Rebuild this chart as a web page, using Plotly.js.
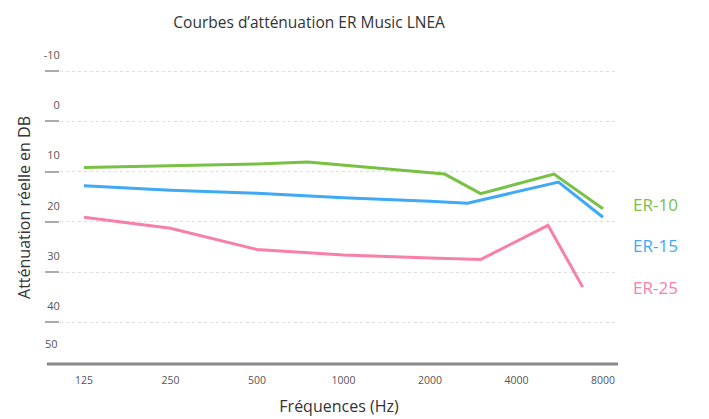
<!DOCTYPE html>
<html>
<head>
<meta charset="utf-8">
<script src="https://cdn.plot.ly/plotly-3.0.1.min.js"></script>
<style>html,body{margin:0;padding:0;background:#fff;}#chart{width:709px;height:419px;}</style>
</head>
<body>
<div id="chart"></div>
<script>
// Data
const er10Freq = [125, 250, 500, 750, 2250, 3000, 5400, 8000];
const er10Att  = [9.2, 8.8, 8.5, 8.1, 10.5, 14.4, 10.5, 17.4];

const er15Freq = [125, 250, 500, 1000, 2000, 2700, 5600, 8000];
const er15Att  = [12.8, 13.7, 14.3, 15.2, 15.9, 16.3, 12.1, 19.1];

const er25Freq = [125, 250, 500, 1000, 2000, 3000, 5150, 6800];
const er25Att  = [19.1, 21.3, 25.5, 26.6, 27.2, 27.5, 20.7, 33.0];

const xTicks = [125, 250, 500, 1000, 2000, 4000, 8000];
const xTickText = ['125', '250', '500', '1000', '2000', '4000', '8000'];
const yTicks = [-10, 0, 10, 20, 30, 40];
const yTickText = ['-10', '0', '10', '20', '30', '40'];
const bottomLabel = '50';

const seriesNames = ['ER-10', 'ER-15', 'ER-25'];
const colors = ['#78c144', '#3fa9f5', '#f77fa8'];

const traces = [
  {x: er10Freq, y: er10Att},
  {x: er15Freq, y: er15Att},
  {x: er25Freq, y: er25Att}
].map((t, i) => ({
  x: t.x, y: t.y, type: 'scatter', mode: 'lines', name: seriesNames[i],
  line: {color: colors[i], width: 3}, showlegend: false, hoverinfo: 'skip'
}));

const labelY = [0.511, 0.380, 0.243];
const annotations = seriesNames.map((n, i) => ({
  text: n, xref: 'paper', yref: 'paper', x: 1.068, y: labelY[i],
  xanchor: 'center', yanchor: 'middle', showarrow: false,
  font: {family: 'Open Sans, sans-serif', size: 17, color: colors[i]}
}));
annotations.push({
  text: bottomLabel, xref: 'paper', yref: 'paper', x: -0.0145, y: 0,
  xanchor: 'center', yanchor: 'bottom', yshift: 11, showarrow: false,
  font: {family: 'Open Sans, sans-serif', size: 11, color: '#555'}
});

const layout = {
  width: 709, height: 419,
  margin: {l: 60, r: 91, t: 51, b: 55},
  paper_bgcolor: '#fff', plot_bgcolor: '#fff',
  title: {
    text: 'Courbes d’atténuation ER Music LNEA',
    xref: 'container', x: 0.436, xanchor: 'center',
    yref: 'container', y: 0.947, yanchor: 'middle',
    font: {family: 'Open Sans, sans-serif', size: 15.5, color: '#333'}
  },
  xaxis: {
    type: 'log',
    range: [2.0134, 3.9553],
    tickvals: xTicks, ticktext: xTickText,
    ticks: 'outside', ticklen: 6, tickcolor: 'rgba(0,0,0,0)',
    showgrid: false, zeroline: false, showline: false,
    tickfont: {family: 'Open Sans, sans-serif', size: 10.5, color: '#555'},
    title: {text: 'Fréquences (Hz)', standoff: 15,
      font: {family: 'Open Sans, sans-serif', size: 16, color: '#333'}}
  },
  yaxis: {
    range: [48.3, -14],
    tickvals: yTicks, ticktext: yTickText,
    ticks: 'outside', ticklen: 14, tickwidth: 2, tickcolor: '#aaa',
    ticklabelshift: 16, ticklabelstandoff: -17,
    showgrid: true, gridcolor: '#dedede', griddash: 'dot', gridwidth: 1,
    zeroline: false, showline: false,
    tickfont: {family: 'Open Sans, sans-serif', size: 11, color: '#555'},
    title: {text: 'Atténuation réelle en DB', standoff: 9,
      font: {family: 'Open Sans, sans-serif', size: 16, color: '#333'}}
  },
  shapes: [{
    type: 'line', xref: 'paper', yref: 'paper',
    x0: -0.0235, x1: 1, y0: 0, y1: 0,
    line: {color: '#8a8a8a', width: 3}
  }],
  annotations: annotations
};

Plotly.newPlot('chart', traces, layout, {displayModeBar: false, staticPlot: true});
</script>
</body>
</html>
